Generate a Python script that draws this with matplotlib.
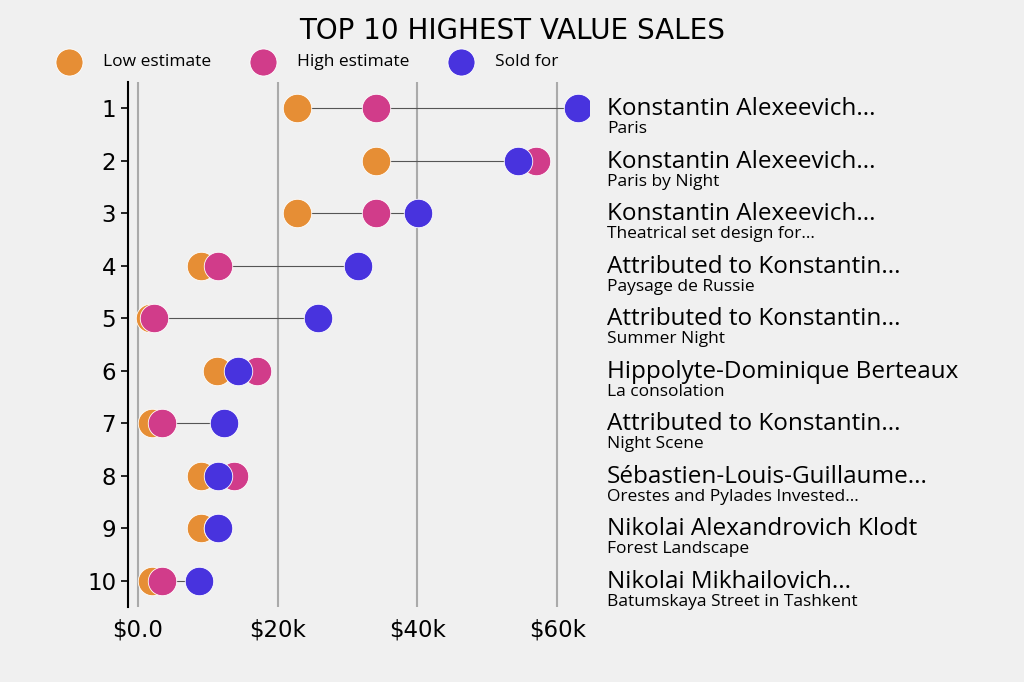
import matplotlib.pyplot as plt
import matplotlib.transforms as mtransforms

ranks = [1, 2, 3, 4, 5, 6, 7, 8, 9, 10]
artists = ['Konstantin Alexeevich...', 'Konstantin Alexeevich...', 'Konstantin Alexeevich...',
           'Attributed to Konstantin...', 'Attributed to Konstantin...',
           'Hippolyte-Dominique Berteaux', 'Attributed to Konstantin...',
           'Sébastien-Louis-Guillaume...', 'Nikolai Alexandrovich Klodt',
           'Nikolai Mikhailovich...']
titles = ['Paris', 'Paris by Night', 'Theatrical set design for...', 'Paysage de Russie',
          'Summer Night', 'La consolation', 'Night Scene', 'Orestes and Pylades Invested...',
          'Forest Landscape', 'Batumskaya Street in Tashkent']
low = [22.8, 34.1, 22.8, 9.1, 1.8, 11.3, 2.1, 9.1, 9.1, 2.1]
high = [34.1, 56.9, 34.1, 11.4, 2.3, 17.1, 3.4, 13.7, 11.4, 3.4]
sold = [62.9, 54.4, 40.1, 31.5, 25.8, 14.3, 12.3, 11.4, 11.4, 8.7]

bg = '#f0f0f0'
c_low, c_high, c_sold = '#e68e35', '#d13c8a', '#4833de'
label_font = 'Open Sans'

fig = plt.figure(figsize=(10.24, 6.82), dpi=100, facecolor=bg)
ax = fig.add_axes([0.125, 0.11, 0.45, 0.77], facecolor=bg)

# vertical grid at the ticks
for g in [0, 20, 40, 60]:
    ax.axvline(g, color='#aaaaaa', lw=1.5, zorder=0)

# connecting lines from min to max
for r, a, b, c in zip(ranks, low, high, sold):
    ax.hlines(r, min(a, b, c), max(a, b, c), color='#555555', lw=0.8, zorder=1)

kw = dict(s=420, edgecolors='white', linewidths=0.6, zorder=3)
ax.scatter(low, ranks, color=c_low, label='Low estimate', **kw)
ax.scatter(high, ranks, color=c_high, label='High estimate', **kw)
ax.scatter(sold, ranks, color=c_sold, label='Sold for', **kw)

ax.set_xlim(-1.4, 64.5)
ax.set_ylim(10.5, 0.5)
ax.set_yticks(ranks)
ax.set_xticks([0, 20, 40, 60])
ax.set_xticklabels(['$0.0', '$20k', '$40k', '$60k'])
ax.tick_params(axis='both', labelsize=16.5)
ax.tick_params(axis='x', length=0, pad=8)
ax.tick_params(axis='y', length=5, width=1.2)
for s in ['top', 'right', 'bottom']:
    ax.spines[s].set_visible(False)
ax.spines['left'].set_linewidth(1.5)

# row labels on the right
trans = mtransforms.blended_transform_factory(ax.transAxes, ax.transData)
for r, name, t in zip(ranks, artists, titles):
    ax.annotate(name, xy=(1.0, r), xycoords=trans, xytext=(13, -5), textcoords='offset points',
                ha='left', va='baseline', fontsize=17.5, family=label_font, clip_on=False)
    ax.annotate(t, xy=(1.0, r), xycoords=trans, xytext=(13, -18), textcoords='offset points',
                ha='left', va='baseline', fontsize=12.5, family=label_font, clip_on=False)

fig.suptitle('TOP 10 HIGHEST VALUE SALES', y=0.975, fontsize=20)
fig.legend(loc='center', bbox_to_anchor=(0.298, 0.909), ncol=3, frameon=False,
           prop={'family': label_font, 'size': 12.5}, handletextpad=0.95,
           columnspacing=2.0, markerscale=0.95)

fig.savefig('out.png', dpi=100, facecolor=bg)
